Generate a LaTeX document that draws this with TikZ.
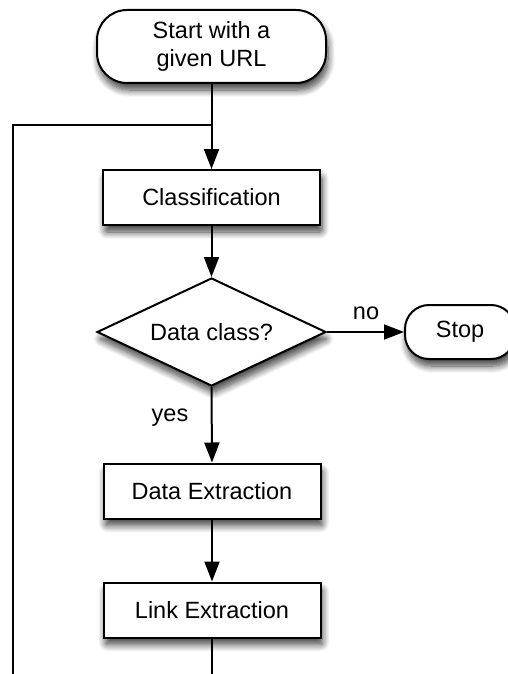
\documentclass[tikz,border=0pt]{standalone}
\usepackage{fontspec}
\setmainfont{Liberation Sans}
\usetikzlibrary{arrows.meta,shapes.geometric,shadows.blur}
\begin{document}
\begin{tikzpicture}[x=1pt,y=-1pt,
  every node/.style={font=\fontsize{23.5}{28}\selectfont},
  shad/.style={blur shadow={shadow xshift=2pt,shadow yshift=-7pt,shadow blur steps=10,shadow blur radius=7pt,shadow opacity=75,shadow blur extra rounding=2pt}},
  procbox/.style={draw,line width=2pt,fill=white,minimum width=217pt,minimum height=55pt,inner sep=0pt,shad},
  termbox/.style={draw,line width=2pt,fill=white,inner sep=0pt,align=center,shad},
  decbox/.style={draw,line width=2pt,fill=white,diamond,aspect=2.12,minimum width=229pt,minimum height=108pt,inner sep=0pt,shad},
  conn/.style={line width=2pt,-{Triangle[length=20pt,width=15pt]}},
  plain/.style={line width=2pt},
  lbl/.style={inner sep=0pt}
]
\useasboundingbox (0,0) rectangle (507,674);
\node[termbox,rounded corners=30pt,minimum width=229pt,minimum height=73pt] (start) at (211.5,46.5) {Start with a\\given URL};
\node[procbox] (class) at (211.5,197.5) {Classification};
\node[decbox] (dec) at (211.5,332) {Data class?};
\node[termbox,rounded corners=24pt,minimum width=110pt,minimum height=54pt] (stop) at (460,332) {Stop};
\node[procbox] (dext) at (212,491) {Data Extraction};
\node[procbox] (lext) at (212,610) {Link Extraction};
\node[lbl] (no) at (366,313) {no};
\node[lbl] (yes) at (170,418) {yes};
\coordinate (j) at (211.5,125);
\coordinate (lb) at (13,680);
\coordinate (mb) at (212,680);
\draw[plain] (start.south) -- (j);
\draw[conn] (j) -- (class.north);
\draw[plain] (lb) |- (j);
\draw[conn] (class.south) -- (dec.north);
\draw[conn] (dec.east) -- (stop.west);
\draw[conn] (dec.south) -- (dext.north);
\draw[conn] (dext.south) -- (lext.north);
\draw[plain] (lext.south) -- (mb);
\end{tikzpicture}
\end{document}
